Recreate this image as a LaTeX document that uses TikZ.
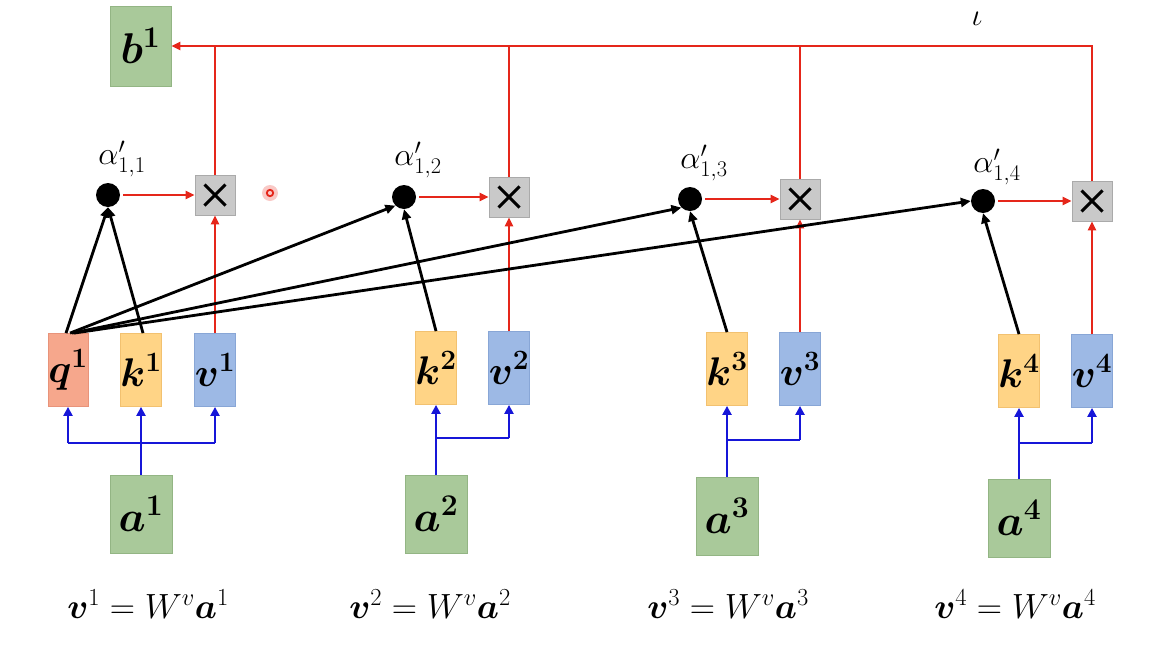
\RequirePackage{fix-cm}
\documentclass[tikz,border=0pt]{standalone}
\usepackage{amsmath,bm}
\usetikzlibrary{arrows.meta}
\definecolor{qfill}{HTML}{F6A78C}
\definecolor{qdraw}{HTML}{E8937A}
\definecolor{kfill}{HTML}{FFD486}
\definecolor{kdraw}{HTML}{F2C170}
\definecolor{vfill}{HTML}{9DB9E5}
\definecolor{vdraw}{HTML}{88A6D6}
\definecolor{gfill}{HTML}{A9C99A}
\definecolor{gdraw}{HTML}{93B584}
\definecolor{xfill}{HTML}{C9C9C9}
\definecolor{xdraw}{HTML}{AAAAAA}
\definecolor{lred}{HTML}{E5261A}
\definecolor{lblue}{HTML}{1616D8}
\begin{document}
\begin{tikzpicture}[x=1pt,y=-1pt,
  small/.style={minimum width=40pt, minimum height=73pt, inner sep=0pt, line width=0.8pt, font=\fontsize{40}{42}\selectfont},
  qbox/.style={small, draw=qdraw, fill=qfill},
  kbox/.style={small, draw=kdraw, fill=kfill},
  vbox/.style={small, draw=vdraw, fill=vfill},
  gbox/.style={minimum width=62pt, minimum height=78pt, inner sep=0pt, line width=0.8pt, draw=gdraw, fill=gfill, font=\fontsize{43}{45}\selectfont},
  mulbox/.style={minimum width=40pt, minimum height=40pt, inner sep=0pt, line width=0.8pt, draw=xdraw, fill=xfill,
    path picture={\draw[line width=3pt, black] ([shift={(-10.5pt,-10.5pt)}]path picture bounding box.center) -- ([shift={(10.5pt,10.5pt)}]path picture bounding box.center)
      ([shift={(-10.5pt,10.5pt)}]path picture bounding box.center) -- ([shift={(10.5pt,-10.5pt)}]path picture bounding box.center);}},
  dot/.style={circle, fill=black, minimum size=24pt, inner sep=0pt},
  alab/.style={font=\fontsize{32}{34}\selectfont, inner sep=0pt},
  eq/.style={font=\fontsize{35}{38}\selectfont, inner sep=0pt},
  redl/.style={draw=lred, line width=2.4pt},
  redarr/.style={redl, -{Triangle[length=9pt,width=8pt]}},
  blkarr/.style={draw=black, line width=2.8pt, -{Triangle[length=10pt,width=9pt]}},
  bluel/.style={draw=lblue, line width=2.9pt},
  bluearr/.style={bluel, -{Triangle[length=9pt,width=9pt]}}
]
\useasboundingbox (0,0) rectangle (1152,667);

% boxes
\node[gbox, minimum width=61pt, minimum height=80pt] (b1) at (140.5,46) {$\bm{b^1}$};

\node[mulbox] (x1) at (215,195) {};
\node[mulbox] (x2) at (509,197) {};
\node[mulbox] (x3) at (800,199) {};
\node[mulbox] (x4) at (1092,201) {};

\node[dot] (d1) at (108,195) {};
\node[dot] (d2) at (404,197) {};
\node[dot] (d3) at (690,199) {};
\node[dot] (d4) at (983,201) {};

\node[alab] (l1) at (122,159) {$\alpha'_{1,1}$};
\node[alab] (l2) at (418,160) {$\alpha'_{1,2}$};
\node[alab] (l3) at (704,163) {$\alpha'_{1,3}$};
\node[alab] (l4) at (997,167) {$\alpha'_{1,4}$};

\node[qbox] (q1) at (68,370) {$\bm{q^1}$};
\node[kbox] (k1) at (141,370) {$\bm{k^1}$};
\node[vbox] (v1) at (215,370) {$\bm{v^1}$};
\node[kbox] (k2) at (436,368) {$\bm{k^2}$};
\node[vbox] (v2) at (509,368) {$\bm{v^2}$};
\node[kbox] (k3) at (727,369) {$\bm{k^3}$};
\node[vbox] (v3) at (800,369) {$\bm{v^3}$};
\node[kbox] (k4) at (1019,371) {$\bm{k^4}$};
\node[vbox] (v4) at (1092,371) {$\bm{v^4}$};

\node[gbox] (a1) at (141,514) {$\bm{a^1}$};
\node[gbox] (a2) at (436,514) {$\bm{a^2}$};
\node[gbox] (a3) at (727,516) {$\bm{a^3}$};
\node[gbox] (a4) at (1019,518) {$\bm{a^4}$};

% equations
\node[eq] (e1) at (148,604) {$\bm{v}^1 = W^v\bm{a}^1$};
\node[eq] (e2) at (430,604) {$\bm{v}^2 = W^v\bm{a}^2$};
\node[eq] (e3) at (728,604) {$\bm{v}^3 = W^v\bm{a}^3$};
\node[eq] (e4) at (1015,604) {$\bm{v}^4 = W^v\bm{a}^4$};

% top text fragment
\node[font=\fontsize{31}{33}\selectfont, inner sep=0pt] (iota) at (977,19) {$\iota$};

% laser dot
\fill[lred!25] (270,193) circle (8pt);
\draw[lred, line width=1.8pt] (270,193) circle (3.2pt);

% red connections
\draw[redarr] (x4.north) |- (b1.east);
\draw[redl] (x1.north) -- (x1.north |- b1.east);
\draw[redl] (x2.north) -- (x2.north |- b1.east);
\draw[redl] (x3.north) -- (x3.north |- b1.east);
\foreach \i in {1,2,3,4}{
  \draw[redarr] ([xshift=3pt]d\i.east) -- (d\i.east -| x\i.west);
  \draw[redarr] (v\i.north) -- (x\i.south);
}

% black connections
\draw[blkarr] ([xshift=-2pt]q1.north) -- (d1.south);
\draw[blkarr] ([xshift=2pt]k1.north) -- (d1.south);
\draw[blkarr] ([xshift=2pt]q1.north) -- (d2.south west);
\draw[blkarr] ([xshift=4pt]q1.north) -- (d3.south west);
\draw[blkarr] ([xshift=6pt]q1.north) -- (d4.west);
\draw[blkarr] (k2.north) -- (d2.south);
\draw[blkarr] (k3.north) -- (d3.south);
\draw[blkarr] (k4.north) -- (d4.south);

% blue connections
\coordinate (j1) at (141,443);
\draw[bluearr] (a1.north) -- (k1.south);
\draw[bluel] (j1 -| q1) -- (j1 -| v1);
\draw[bluearr] (j1 -| q1) -- (q1.south);
\draw[bluearr] (j1 -| v1) -- (v1.south);
\coordinate (j2) at (436,438);
\draw[bluearr] (a2.north) -- (k2.south);
\draw[bluel] (j2 -| k2) -- (j2 -| v2);
\draw[bluearr] (j2 -| v2) -- (v2.south);
\coordinate (j3) at (727,440);
\draw[bluearr] (a3.north) -- (k3.south);
\draw[bluel] (j3 -| k3) -- (j3 -| v3);
\draw[bluearr] (j3 -| v3) -- (v3.south);
\coordinate (j4) at (1019,443);
\draw[bluearr] (a4.north) -- (k4.south);
\draw[bluel] (j4 -| k4) -- (j4 -| v4);
\draw[bluearr] (j4 -| v4) -- (v4.south);
\end{tikzpicture}
\end{document}
